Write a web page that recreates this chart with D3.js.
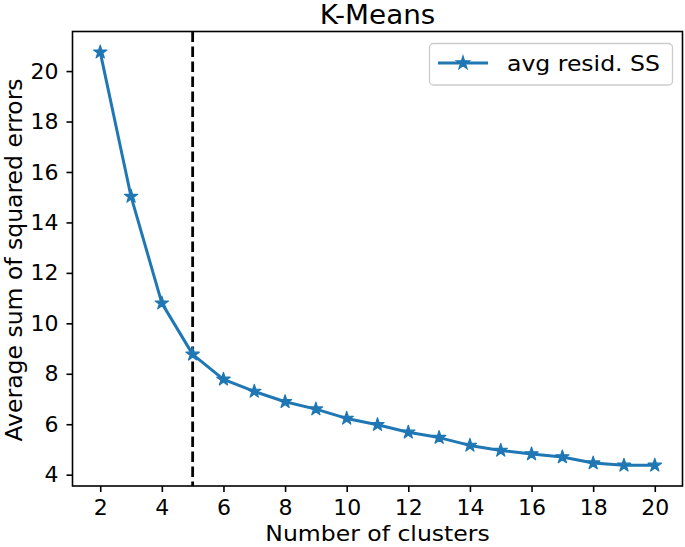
<!DOCTYPE html>
<html>
<head>
<meta charset="utf-8">
<script src="https://cdn.jsdelivr.net/npm/d3@7"></script>
<style>
  html, body { margin: 0; padding: 0; background: #fff; }
  svg text { font-family: "DejaVu Sans", sans-serif; fill: #000; }
</style>
</head>
<body>
<svg id="chart" width="685" height="547"></svg>
<script>
const clusters = [2,3,4,5,6,7,8,9,10,11,12,13,14,15,16,17,18,19,20];
const avgResidSS = [20.75,15.03,10.80,8.77,7.78,7.30,6.89,6.60,6.23,5.98,5.68,5.47,5.16,4.96,4.82,4.70,4.46,4.37,4.37];
const elbowK = 5;
const xTicks = [2,4,6,8,10,12,14,16,18,20];
const yTicks = [4,6,8,10,12,14,16,18,20];
const titleText = "K-Means";
const xLabel = "Number of clusters";
const yLabel = "Average sum of squared errors";
const seriesName = "avg resid. SS";

const color = "#1f77b4";
const svg = d3.select("#chart");
const L = 72.5, R = 682.5, T = 31.5, B = 486;
const SX = 1.07;

const xPad = (d3.max(clusters) - d3.min(clusters)) * 0.05;
const yPad = (d3.max(avgResidSS) - d3.min(avgResidSS)) * 0.05;
const x = d3.scaleLinear().domain([d3.min(clusters) - xPad, d3.max(clusters) + xPad]).range([L, R]);
const y = d3.scaleLinear().domain([d3.min(avgResidSS) - yPad, d3.max(avgResidSS) + yPad]).range([B, T]);

function starPath(r) {
  const ri = r * 0.381966;
  const pts = [];
  for (let i = 0; i < 10; i++) {
    const a = -Math.PI / 2 + i * Math.PI / 5;
    const rr = i % 2 === 0 ? r : ri;
    pts.push([rr * Math.cos(a), rr * Math.sin(a)]);
  }
  return "M" + pts.map(p => p[0].toFixed(2) + "," + p[1].toFixed(2)).join("L") + "Z";
}

// axes
const xAxis = d3.axisBottom(x).tickValues(xTicks).tickSize(6).tickPadding(7).tickFormat(d3.format("d"));
const yAxis = d3.axisLeft(y).tickValues(yTicks).tickSize(6).tickPadding(8).tickFormat(d3.format("d"));

const gx = svg.append("g").attr("transform", `translate(0,${B})`).call(xAxis);
const gy = svg.append("g").attr("transform", `translate(${L},0)`).call(yAxis);
[gx, gy].forEach(g => {
  g.select(".domain").remove();
  g.selectAll(".tick line").attr("stroke", "#000").attr("stroke-width", 1.6);
  g.selectAll(".tick text").attr("font-size", 22).attr("font-family", "DejaVu Sans").attr("fill", "#000");
});

// elbow line
svg.append("line")
  .attr("x1", x(elbowK)).attr("x2", x(elbowK))
  .attr("y1", T).attr("y2", B)
  .attr("stroke", "#000").attr("stroke-width", 2.8)
  .attr("stroke-dasharray", "10.5,4.5");

// data line
const line = d3.line().x((d, i) => x(clusters[i])).y(d => y(d));
svg.append("path").datum(avgResidSS)
  .attr("d", line).attr("fill", "none")
  .attr("stroke", color).attr("stroke-width", 3).attr("stroke-linejoin", "round");

svg.append("g").selectAll("path.mk").data(avgResidSS).join("path")
  .attr("class", "mk")
  .attr("d", starPath(7))
  .attr("transform", (d, i) => `translate(${x(clusters[i])},${y(d)})`)
  .attr("fill", color).attr("stroke", color).attr("stroke-width", 1.2).attr("stroke-linejoin", "round");

// frame
svg.append("rect").attr("x", L).attr("y", T).attr("width", R - L).attr("height", B - T)
  .attr("fill", "none").attr("stroke", "#000").attr("stroke-width", 1.6);

// title and labels
svg.append("text").attr("transform", `translate(${(L + R) / 2},24) scale(${SX},1)`).attr("text-anchor", "middle")
  .attr("font-size", 26).text(titleText);
svg.append("text").attr("transform", `translate(${(L + R) / 2},541) scale(${SX},1)`).attr("text-anchor", "middle")
  .attr("font-size", 22).text(xLabel);
svg.append("text").attr("transform", `translate(22,260) rotate(-90)`)
  .attr("text-anchor", "middle").attr("font-size", 23.5).text(yLabel);

// legend
const lg = svg.append("g");
lg.append("rect").attr("x", 429.5).attr("y", 43.5).attr("width", 243).attr("height", 41.5)
  .attr("rx", 4).attr("fill", "#fff").attr("fill-opacity", 0.8)
  .attr("stroke", "#ccc").attr("stroke-width", 1.3);
lg.append("line").attr("x1", 438).attr("x2", 488).attr("y1", 63).attr("y2", 63)
  .attr("stroke", color).attr("stroke-width", 3);
lg.append("path").attr("d", starPath(7)).attr("transform", "translate(463,63)")
  .attr("fill", color).attr("stroke", color).attr("stroke-width", 1.2);
lg.append("text").attr("transform", `translate(507,71) scale(${SX},1)`).attr("font-size", 22).text(seriesName);
</script>
</body>
</html>
